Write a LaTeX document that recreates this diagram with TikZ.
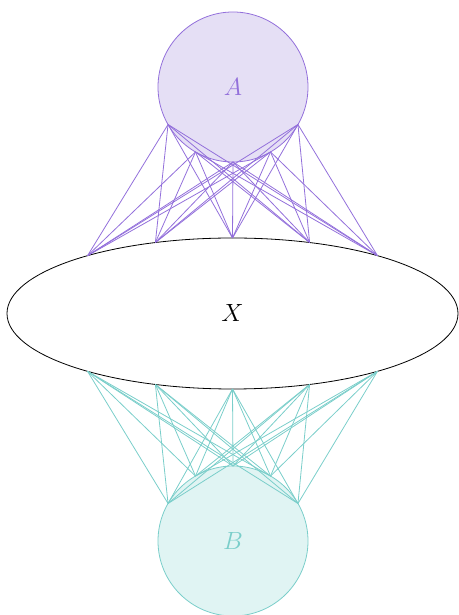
\documentclass[tikz,border=0pt]{standalone}
\usetikzlibrary{shapes.geometric,calc}
\definecolor{pstroke}{RGB}{147,112,219}
\definecolor{pfill}{RGB}{229,223,245}
\definecolor{tstroke}{RGB}{122,206,202}
\definecolor{tfill}{RGB}{224,244,243}
\begin{document}
\begin{tikzpicture}[x=1pt,y=1pt,
  lbl/.style={font=\fontsize{27}{30}\selectfont},
  setcircle/.style={circle, minimum size=150pt, inner sep=0pt, line width=0.8pt, lbl},
  setellipse/.style={ellipse, draw=black, minimum width=451pt, minimum height=151pt, inner sep=0pt, line width=0.8pt, lbl},
  plink/.style={draw=pstroke, line width=0.8pt},
  tlink/.style={draw=tstroke, line width=0.8pt}]
\useasboundingbox (0,0) rectangle (458,615);
\node[setcircle, draw=pstroke, fill=pfill, text=pstroke] (A) at (233,528) {$A$};
\node[setellipse] (X) at (232.5,301.5) {$X$};
\node[setcircle, draw=tstroke, fill=tfill, text=tstroke] (B) at (233,74) {$B$};
\foreach \i/\a in {1/210,2/240,3/270,4/300,5/330}
  \coordinate (a\i) at ($(A.center)+(\a:75pt)$);
\foreach \i/\a in {1/150,2/120,3/90,4/60,5/30}
  \coordinate (b\i) at ($(B.center)+(\a:75pt)$);
\foreach \i/\a in {1/130,2/110,3/90,4/70,5/50}
  \coordinate (xt\i) at ($(X.center)+(\a:225.5pt and 75.5pt)$);
\foreach \i/\a in {1/230,2/250,3/270,4/290,5/310}
  \coordinate (xb\i) at ($(X.center)+(\a:225.5pt and 75.5pt)$);
\foreach \i in {1,...,5}
  \foreach \j in {1,...,5} {
    \draw[plink] (a\i) -- (xt\j);
    \draw[tlink] (b\i) -- (xb\j);
  }
\end{tikzpicture}
\end{document}
